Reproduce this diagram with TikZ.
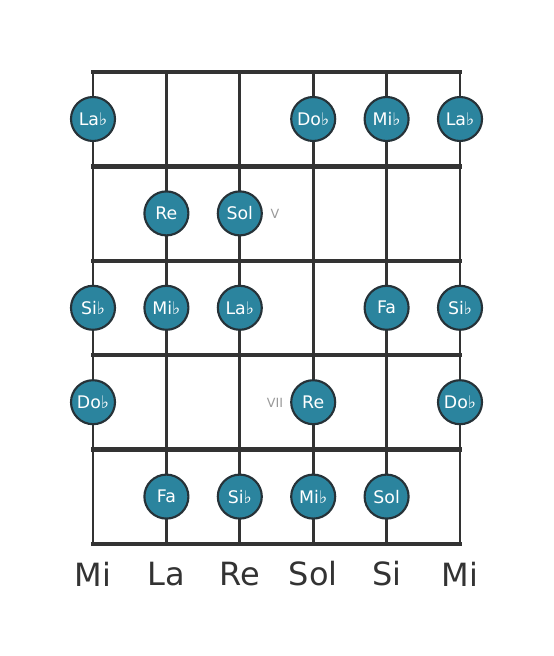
\documentclass[tikz,border=0pt]{standalone}
\usepackage{fontspec}
\setmainfont{DejaVu Sans}
\definecolor{noteblue}{HTML}{2B849E}
\definecolor{wood}{HTML}{333333}
\definecolor{rim}{HTML}{263238}
\newcommand\fl{♭}
\tikzset{
  note/.style={circle, fill=noteblue, draw=rim, line width=1.6pt, minimum size=33pt, inner sep=0pt, text=white, font=\fontsize{13}{13}\selectfont},
  fretno/.style={text=gray!80, font=\fontsize{9.5}{10}\selectfont},
  strname/.style={text=wood, font=\fontsize{24}{24}\selectfont}
}
\begin{document}
\begin{tikzpicture}[x=0.75pt,y=-0.75pt, line cap=rect]
\useasboundingbox (0,0) rectangle (553,656);
\def \sx{73.4};
\def \fy{94.4};
% strings
\foreach \s in {0,...,5}
  \draw[wood, line width=2pt] (93+\s*\sx,72) -- (93+\s*\sx,544);
% frets
\foreach \f in {0,...,5}
  \draw[wood, line width=3.4pt] (93,72+\f*\fy) -- (460,72+\f*\fy);
% notes: string/fret/name
\foreach \s/\f/\l [count=\i] in {0/0/La\fl,3/0/Do\fl,4/0/Mi\fl,5/0/La\fl,
  1/1/Re,2/1/Sol,
  0/2/Si\fl,1/2/Mi\fl,2/2/La\fl,4/2/Fa,5/2/Si\fl,
  0/3/Do\fl,3/3/Re,5/3/Do\fl,
  1/4/Fa,2/4/Si\fl,3/4/Mi\fl,4/4/Sol}
  \node[note] (n\i) at (93+\s*\sx,119+\f*\fy) {\l};
\node[fretno] (v) at (275,214) {V};
\node[fretno] (vii) at (275,403) {VII};
\foreach \s/\l in {0/Mi,1/La,2/Re,3/Sol,4/Si,5/Mi}
  \node[strname] (s\s) at (93+\s*\sx,574) {\l};
\end{tikzpicture}
\end{document}
